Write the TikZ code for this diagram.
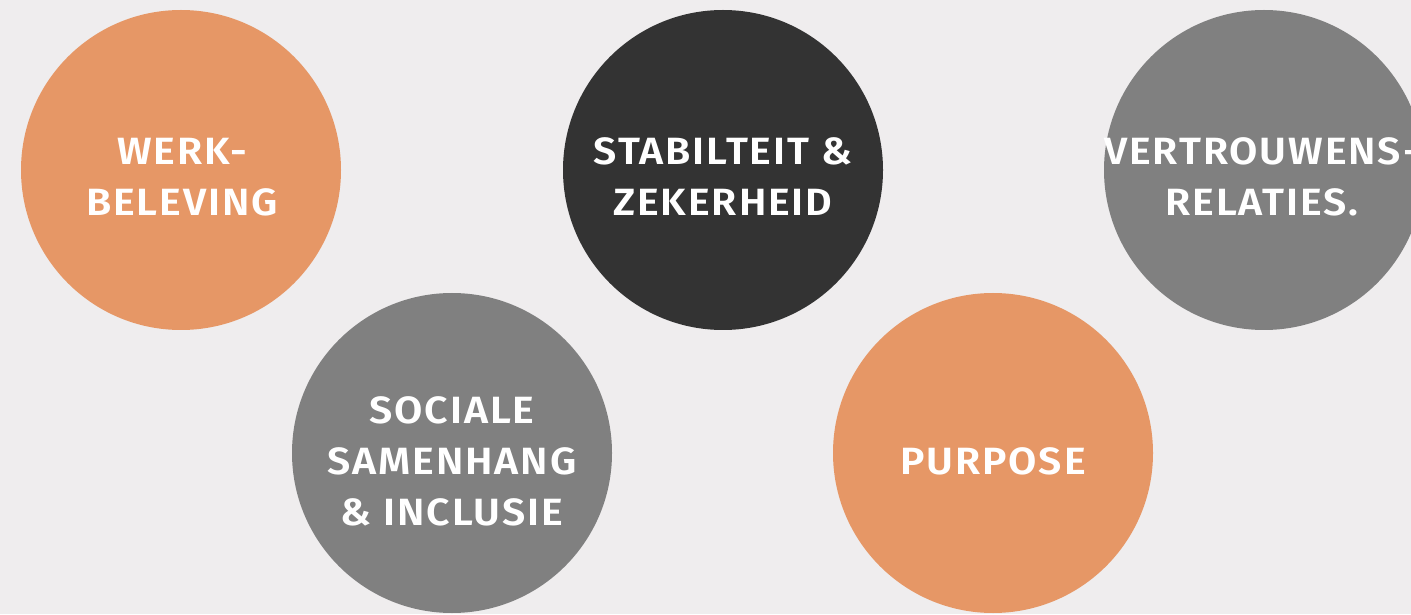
\documentclass[tikz,border=0pt]{standalone}
\usepackage{fontspec}
\setmainfont{Fira Sans}
\newfontfamily\lblfont[LetterSpace=5,FakeStretch=1.08]{Fira Sans SemiBold}
\definecolor{bgc}{HTML}{EFEDEE}
\definecolor{orng}{HTML}{E69766}
\definecolor{darkc}{HTML}{333333}
\definecolor{grayc}{HTML}{808080}
\begin{document}
\begin{tikzpicture}[x=1pt,y=1pt,
  disc/.style={circle,minimum size=320pt,inner sep=0pt,draw=none},
  lbl/.style={text=white,align=center,font=\lblfont\fontsize{38}{51}\selectfont}]
\useasboundingbox (0,0) rectangle (1411,614);
\fill[bgc] (0,0) rectangle (1411,614);
\begin{scope}
\clip (0,0) rectangle (1411,614);
\node[disc,fill=orng] (c1) at (181,444) {};
\node[disc,fill=darkc] (c2) at (723,444) {};
\node[disc,fill=grayc] (c3) at (1264,444) {};
\node[disc,fill=grayc] (c4) at (452,161) {};
\node[disc,fill=orng] (c5) at (993,161) {};
\node[lbl] (t3) at (1262,437) {VERTROUWENS-\\RELATIES.};
\end{scope}
\node[lbl] (t1) at (182,437) {WERK-\\BELEVING};
\node[lbl] (t2) at (723,437) {STABILTEIT \&\\ZEKERHEID};
\node[lbl] (t4) at (452,153) {SOCIALE\\SAMENHANG\\\& INCLUSIE};
\node[lbl] (t5) at (993,153) {PURPOSE};
\end{tikzpicture}
\end{document}
